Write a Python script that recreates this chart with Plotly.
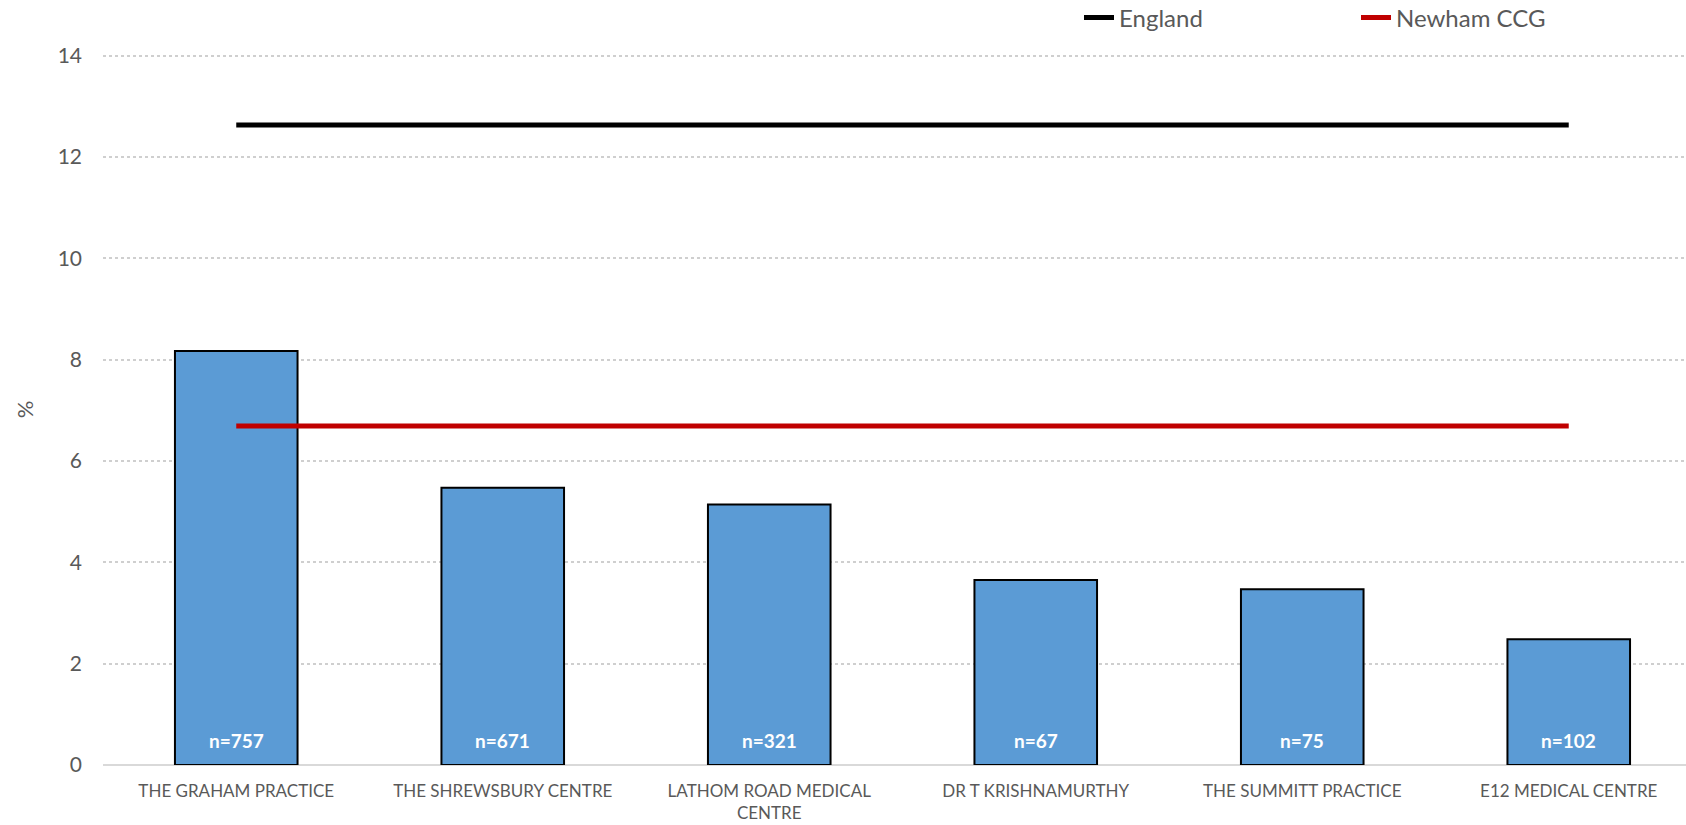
import plotly.graph_objects as go

practices = ["THE GRAHAM PRACTICE", "THE SHREWSBURY CENTRE", "LATHOM ROAD MEDICAL<br>CENTRE",
             "DR T KRISHNAMURTHY", "THE SUMMITT PRACTICE", "E12 MEDICAL CENTRE"]
values = [8.17, 5.47, 5.14, 3.65, 3.47, 2.48]
n_labels = ["n=757", "n=671", "n=321", "n=67", "n=75", "n=102"]
england_value = 12.63
newham_value = 6.69
y_ticks = [0, 2, 4, 6, 8, 10, 12, 14]

GREY = "#595959"
FONT = "Lato"

fig = go.Figure()
fig.add_trace(go.Bar(
    x=practices, y=values, width=0.46,
    marker=dict(color="#5B9BD5", line=dict(color="black", width=2)),
    showlegend=False, hoverinfo="y",
))
fig.add_trace(go.Scatter(
    x=practices, y=[england_value] * len(practices), mode="lines", name="England",
    line=dict(color="black", width=5),
))
fig.add_trace(go.Scatter(
    x=practices, y=[newham_value] * len(practices), mode="lines", name="Newham CCG",
    line=dict(color="#C00000", width=5),
))

for p, t in zip(practices, n_labels):
    fig.add_annotation(x=p, y=0, text=f"<b>{t}</b>", showarrow=False, yshift=25,
                       font=dict(family=FONT, size=19, color="white"))

fig.update_layout(
    width=1686, height=825,
    margin=dict(l=103, r=0, t=54, b=60, autoexpand=False),
    plot_bgcolor="white", paper_bgcolor="white",
    font=dict(family=FONT, color=GREY),
    legend=dict(orientation="h", x=1079 / 1686, y=1 - 18 / 825, xref="container", yref="container",
                xanchor="left", yanchor="middle",
                font=dict(family=FONT, size=24, color=GREY),
                entrywidth=232, entrywidthmode="pixels", bgcolor="rgba(0,0,0,0)"),
)
fig.update_xaxes(
    range=[-0.5, 5.44], showgrid=False, showline=False, zeroline=False, automargin=False,
    tickfont=dict(family=FONT, size=17, color=GREY), ticks="", ticklabelstandoff=14,
)
fig.update_yaxes(
    range=[0, 14.03], tickvals=y_ticks, showgrid=True, gridcolor="#CFCFCF", griddash="dot",
    gridwidth=1.5, zeroline=True, zerolinecolor="#D9D9D9", zerolinewidth=2, automargin=False,
    tickfont=dict(family=FONT, size=21, color=GREY), ticklabelstandoff=20,
    title=dict(text="%", font=dict(family=FONT, size=22, color=GREY), standoff=17),
)

fig.write_html("out.html", config={"displayModeBar": False},
               post_script="document.body.style.margin='0';")
